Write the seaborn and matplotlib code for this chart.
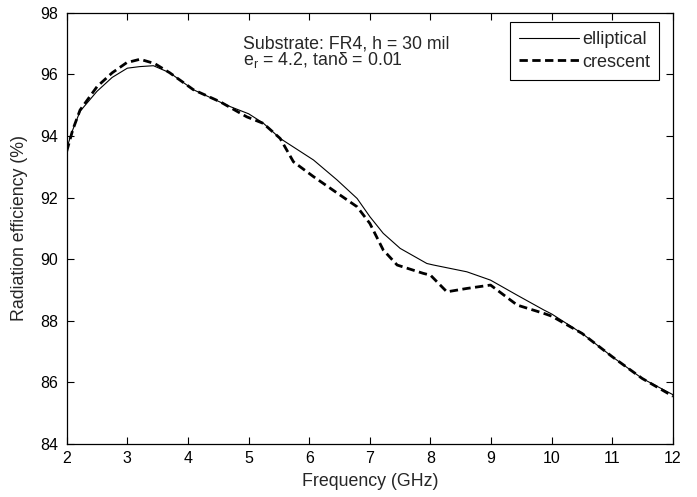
import matplotlib
matplotlib.use("Agg")
import matplotlib.pyplot as plt
import seaborn as sns
import pandas as pd

freq_ell = [2.0, 2.1, 2.22, 2.5, 2.75, 3.0, 3.2, 3.43, 3.7, 4.09, 4.53, 4.7, 5.0, 5.24, 5.52,
            6.07, 6.46, 6.79, 7.0, 7.22, 7.5, 7.94, 8.05, 8.6, 8.99, 9.43, 9.87, 10.0,
            10.5, 11.0, 11.49, 12.0]
eff_ell = [93.6, 94.2, 94.8, 95.45, 95.9, 96.2, 96.25, 96.28, 96.05, 95.5, 95.1, 94.95, 94.72, 94.42, 93.92,
           93.22, 92.57, 91.97, 91.38, 90.84, 90.35, 89.86, 89.81, 89.59, 89.32, 88.83, 88.35, 88.22,
           87.59, 86.83, 86.13, 85.6]

freq_cre = [2.0, 2.1, 2.22, 2.5, 2.75, 2.99, 3.21, 3.45, 3.7, 4.09, 4.53, 4.97, 5.24, 5.52,
            5.74, 6.07, 6.51, 6.79, 7.0, 7.22, 7.45, 7.88, 8.0, 8.27, 8.6, 8.99, 9.43,
            9.87, 10.0, 10.5, 11.0, 11.49, 12.0]
eff_cre = [93.5, 94.2, 94.84, 95.6, 96.05, 96.38, 96.49, 96.35, 96.05, 95.5, 95.11, 94.62, 94.41, 93.92,
           93.16, 92.68, 92.08, 91.70, 91.16, 90.30, 89.81, 89.54, 89.48, 88.94, 89.05, 89.16, 88.51,
           88.24, 88.15, 87.59, 86.83, 86.13, 85.55]

x_ticks = [2, 3, 4, 5, 6, 7, 8, 9, 10, 11, 12]
y_ticks = [84, 86, 88, 90, 92, 94, 96, 98]

df_ell = pd.DataFrame({"f": freq_ell, "eff": eff_ell})
df_cre = pd.DataFrame({"f": freq_cre, "eff": eff_cre})

sns.set_theme(style="ticks")
plt.rcParams["font.family"] = ["Liberation Sans", "DejaVu Sans"]

fig = plt.figure(figsize=(6.97, 4.97), dpi=100)
ax = fig.add_axes([0.0957, 0.1066, 0.8699, 0.8678])

sns.lineplot(data=df_ell, x="f", y="eff", ax=ax, color="black", lw=0.8, label="elliptical")
sns.lineplot(data=df_cre, x="f", y="eff", ax=ax, color="black", lw=2.0, label="crescent",
             linestyle=(0, (3, 1.6)))

ax.set_xlim(2, 12)
ax.set_ylim(84, 98)
ax.set_xticks(x_ticks)
ax.set_yticks(y_ticks)
ax.tick_params(direction="in", length=5, width=0.8, top=True, right=True,
               labelsize=11.5, colors="black")
ax.tick_params(axis="y", pad=6)
ax.tick_params(axis="x", pad=5)
for s in ax.spines.values():
    s.set_color("black")
    s.set_linewidth(0.9)
ax.set_xlabel("Frequency (GHz)", fontsize=12.8, labelpad=5)
ax.set_ylabel("Radiation efficiency (%)", fontsize=12.8, labelpad=9)

ax.text(0.291, 0.879, "Substrate: FR4, h = 30 mil\ne$_\\mathregular{r}$ = 4.2, tanδ = 0.01",
        transform=ax.transAxes, fontsize=12.8, va="baseline", linespacing=0.8)

leg = ax.legend(loc="upper right", bbox_to_anchor=(0.9774, 0.9780), fontsize=13, frameon=True,
                fancybox=False, edgecolor="black", framealpha=1, handlelength=3.3,
                borderpad=0.5, labelspacing=0.3, handletextpad=0.2, borderaxespad=0)
leg.get_frame().set_linewidth(0.8)

fig.savefig("out.png", dpi=100)
